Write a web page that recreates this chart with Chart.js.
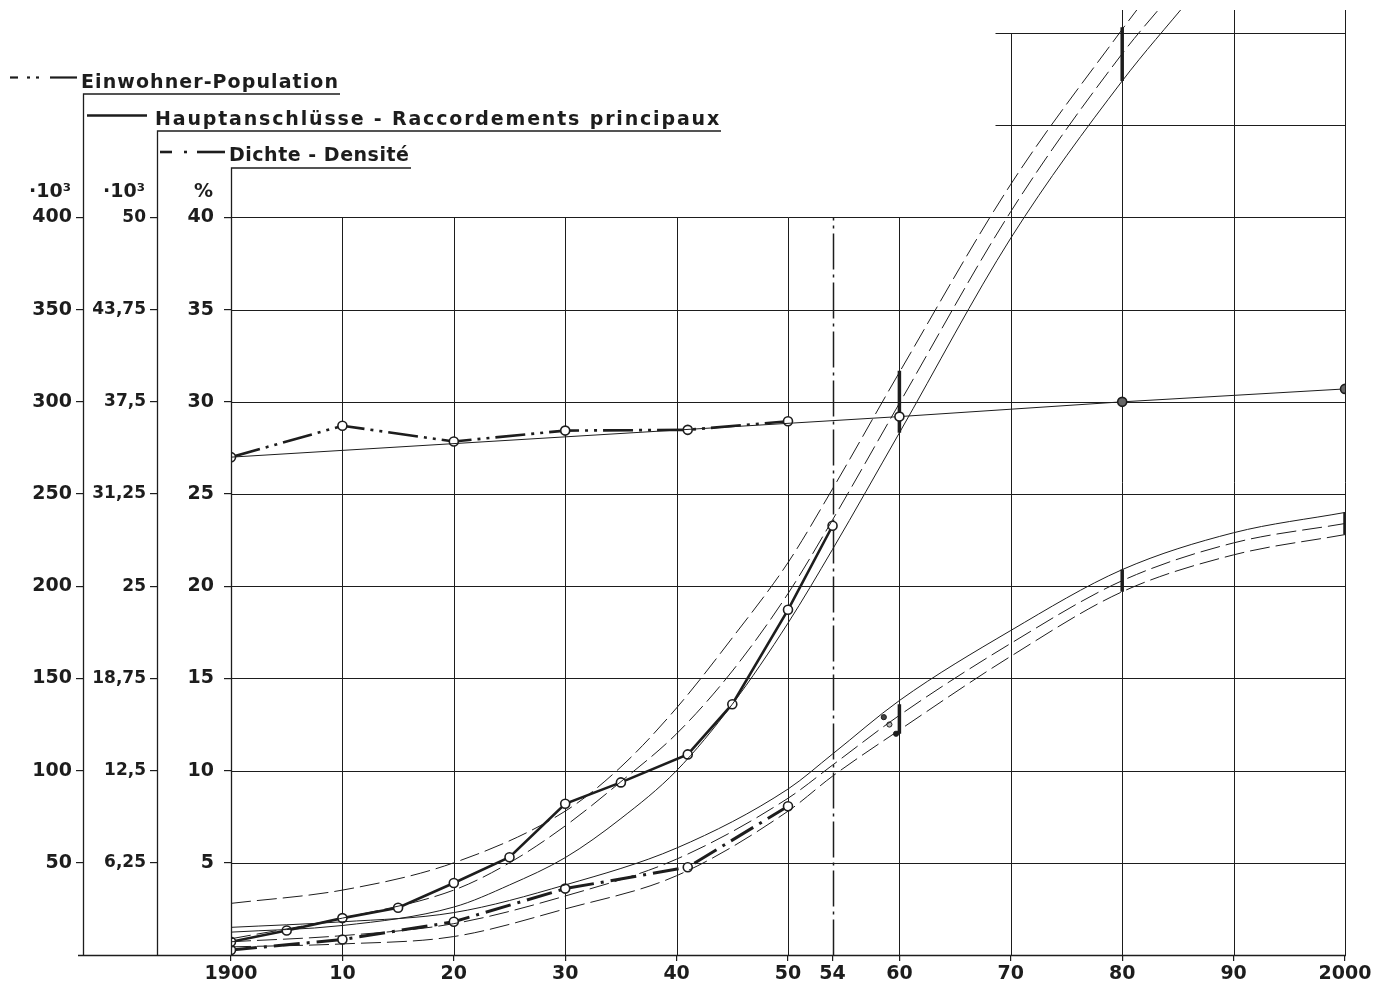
<!DOCTYPE html>
<html lang="de">
<head>
<meta charset="utf-8">
<title>Einwohner, Hauptanschlüsse, Dichte</title>
<script src="https://cdn.jsdelivr.net/npm/chart.js@4.4.1/dist/chart.umd.min.js"></script>
<style>
  html, body { margin: 0; background: #fff; }
  canvas { display: block; }
</style>
</head>
<body>
<canvas id="chart" width="1380" height="985"></canvas>
<script>
// census readings
const censusYears = [1900, 1910, 1920, 1930, 1941, 1950];
const population = [270, 287, 278.5, 284.4, 284.8, 289.5];   // Einwohner, ·10³
const density = [0.27, 0.84, 1.8, 3.6, 4.76, 8.07];           // Dichte, %

const mainsYears = [1900, 1905, 1910, 1915, 1920, 1925, 1930, 1935, 1941, 1945, 1950, 1954];
const mains = [0.9, 1.66, 2.5, 3.2, 4.88, 6.63, 10.25, 11.7, 13.6, 17.0, 23.4, 29.1]; // Hauptanschlüsse, ·10³

// population trend and its marks
const trendYears = [1900, 1960, 1980, 2000];
const populationTrend = [270, 292, 300, 307];

// forecast band for Hauptanschlüsse, ·10³
const mainsHighYears = [1900, 1910, 1920, 1930, 1935, 1940, 1945, 1950, 1954, 1960, 1970, 1980, 1982];
const mainsHigh = [3.5, 4.4, 6.25, 9.75, 12.75, 16.75, 21.5, 26.6, 31.6, 39.5, 52.25, 62.75, 64.75];
const mainsMidYears = [1900, 1910, 1920, 1925, 1930, 1935, 1940, 1945, 1950, 1954, 1960, 1970, 1980, 1984];
const mainsMid = [1.1, 2.5, 4.4, 6.25, 8.75, 11.75, 15.0, 19.25, 24.5, 29.5, 37.4, 50.4, 61.1, 64.75];
const mainsLowYears = [1900, 1910, 1920, 1925, 1930, 1935, 1940, 1945, 1950, 1954, 1960, 1970, 1980, 1986];
const mainsLow = [1.55, 2.0, 3.25, 4.75, 6.6, 9.25, 12.5, 17.0, 22.5, 27.5, 35.4, 48.6, 59.25, 64.75];

// forecast band for Dichte, %
const densityBandYears = [1900, 1910, 1920, 1930, 1940, 1950, 1954, 1960, 1970, 1980, 1990, 2000];
const densityHigh = [1.5, 1.8, 2.3, 3.8, 5.8, 9.0, 10.9, 13.8, 17.6, 20.9, 22.9, 24.0];
const densityMid = [0.72, 1.05, 1.7, 3.2, 5.2, 8.5, 10.3, 13.0, 16.9, 20.3, 22.35, 23.4];
const densityLow = [0.44, 0.6, 1.0, 2.5, 4.3, 7.8, 9.7, 12.2, 16.2, 19.7, 21.7, 22.8];

// forecast ranges (thick bars)
const mainsRangeYears = [1960, 1980];
const mainsRangeHigh = [39.6, 62.9];
const mainsRangeLow = [35.4, 59.25];
const densityRangeYears = [1960, 1980, 2000];
const densityRangeHigh = [13.6, 20.9, 24.0];
const densityRangeLow = [12.0, 19.7, 22.8];
const densityMarkYears = [1958.6, 1959.1, 1959.7];
const densityMarks = [12.9, 12.5, 12.0];

// axes
const xTickYears = [1900, 1910, 1920, 1930, 1940, 1950, 1954, 1960, 1970, 1980, 1990, 2000];
const xTickLabels = ['1900', '10', '20', '30', '40', '50', '54', '60', '70', '80', '90', '2000'];
const pctTicks = [5, 10, 15, 20, 25, 30, 35, 40];
const mainsTicks = [6.25, 12.5, 18.75, 25, 31.25, 37.5, 43.75, 50];
const popTicks = [50, 100, 150, 200, 250, 300, 350, 400];

const ink = '#1d1d1d';
const family = "'DejaVu Sans', sans-serif";
const tickFont = { family, size: 19, weight: 'bold' };
const pctTop = 51.25;

const pts = (xs, ys) => xs.map((x, i) => ({ x, y: ys[i] }));
const bars = (xs, hi, lo) => xs.flatMap((x, i) => [{ x, y: hi[i] }, { x, y: lo[i] }, { x, y: null }]);

const forecast = (data, yAxisID, dash) => ({
  data, yAxisID, borderColor: ink, borderWidth: 1, borderDash: dash,
  pointRadius: 0, cubicInterpolationMode: 'monotone', fill: false
});
const range = (data, yAxisID) => ({
  data, yAxisID, borderColor: ink, borderWidth: 3.5, pointRadius: 0, spanGaps: false, fill: false
});
const measured = (data, yAxisID, dash, width) => ({
  data, yAxisID, borderColor: ink, borderWidth: width, borderDash: dash,
  pointRadius: 4.5, pointBorderWidth: 1.6, pointBorderColor: ink, pointBackgroundColor: '#fff',
  tension: 0, fill: false
});

const fixedTicks = (values) => (scale) => { scale.ticks = values.map(value => ({ value })); };
const leftAxis = (values, max, weight, pad, fmt, font) => ({
  type: 'linear', position: 'left', weight, min: 0, max,
  afterBuildTicks: fixedTicks(values),
  afterFit: (s) => { s.width = 74; s.paddingTop = 0; s.paddingBottom = 0; },
  ticks: { font, color: ink, padding: pad, callback: fmt },
  grid: { drawOnChartArea: false, tickLength: 7, color: ink, lineWidth: 1.2 },
  border: { display: false }
});

const legendRows = [
  { label: 'Einwohner-Population', axis: 'yPop', textX: 81, base: 87.5, lineY: 77.5, under: 94,
    sample: [[10, 18], [27, 30], [36, 39], [50, 77]], width: 257 },
  { label: 'Hauptanschlüsse - Raccordements principaux', axis: 'yMains', textX: 155, base: 125, lineY: 115.5, under: 131,
    sample: [[87, 147]], width: 564 },
  { label: 'Dichte - Densité', axis: 'yPct', textX: 229, base: 161, lineY: 152, under: 168,
    sample: [[160, 172], [184, 187], [197, 225]], width: 180 }
];
const unitLabels = [{ axis: 'yPop', text: '·10³' }, { axis: 'yMains', text: '·10³' }, { axis: 'yPct', text: '%' }];

const paperPlugin = {
  id: 'paper',
  beforeDatasetsDraw(chart) {
    const { ctx, chartArea } = chart;
    const x = chart.scales.x, y = chart.scales.yPct;
    const X = v => Math.round(x.getPixelForValue(v)) + 0.5;
    const Y = v => Math.round(y.getPixelForValue(v)) + 0.5;
    const line = (x1, y1, x2, y2) => { ctx.beginPath(); ctx.moveTo(x1, y1); ctx.lineTo(x2, y2); ctx.stroke(); };
    ctx.save();
    ctx.strokeStyle = ink;
    ctx.lineWidth = 1;
    pctTicks.forEach(v => line(X(1900), Y(v), X(2000), Y(v)));
    [45, 50].forEach(v => line(X(1968.6), Y(v), X(2000), Y(v)));
    [1910, 1920, 1930, 1940, 1950, 1960, 1970, 1980, 1990, 2000].forEach(yr => {
      const top = yr >= 1980 ? chartArea.top : yr === 1970 ? Y(50) : Y(40);
      line(X(yr), Y(0), X(yr), top);
    });
    ctx.lineWidth = 1.5;
    ctx.setLineDash([36, 5, 3, 5]);
    line(X(1954), Y(0), X(1954), Y(40));
    ctx.restore();
  },
  afterDraw(chart) {
    const { ctx } = chart;
    const yZero = Math.round(chart.scales.yPct.getPixelForValue(0)) + 0.5;
    ctx.save();
    ctx.strokeStyle = ink;
    ctx.fillStyle = ink;
    // baseline
    ctx.lineWidth = 1.5;
    ctx.beginPath();
    ctx.moveTo(78, yZero);
    ctx.lineTo(Math.round(chart.scales.x.getPixelForValue(2000)) + 1, yZero);
    ctx.stroke();
    ctx.font = `bold 19px ${family}`;
    legendRows.forEach(row => {
      const ax = Math.round(chart.scales[row.axis].right) + 0.5;
      // sample
      ctx.lineWidth = row.axis === 'yPop' ? 2.2 : 2.6;
      row.sample.forEach(([a, b]) => {
        ctx.beginPath(); ctx.moveTo(a, row.lineY); ctx.lineTo(b, row.lineY); ctx.stroke();
      });
      // label, spread to the drawn width
      ctx.letterSpacing = '0px';
      const w = ctx.measureText(row.label).width;
      ctx.letterSpacing = ((row.width - w) / (row.label.length - 1)).toFixed(2) + 'px';
      ctx.textAlign = 'left';
      ctx.textBaseline = 'alphabetic';
      ctx.fillText(row.label, row.textX, row.base);
      ctx.letterSpacing = '0px';
      // underline and axis line
      ctx.lineWidth = 1.3;
      ctx.beginPath();
      ctx.moveTo(row.textX + row.width + 2, row.under);
      ctx.lineTo(ax, row.under);
      ctx.lineTo(ax, yZero);
      ctx.stroke();
    });
    unitLabels.forEach(u => {
      const s = chart.scales[u.axis];
      ctx.textAlign = 'right';
      ctx.fillText(u.text, s.right - (u.axis === 'yPct' ? 18 : 12), 197);
    });
    ctx.restore();
  }
};

new Chart(document.getElementById('chart'), {
  type: 'line',
  data: {
    datasets: [
      forecast(pts(mainsHighYears, mainsHigh), 'yMains', [20, 6]),
      forecast(pts(mainsMidYears, mainsMid), 'yMains', [20, 6]),
      forecast(pts(mainsLowYears, mainsLow), 'yMains', []),
      forecast(pts(densityBandYears, densityHigh), 'yPct', []),
      forecast(pts(densityBandYears, densityMid), 'yPct', [20, 6]),
      forecast(pts(densityBandYears, densityLow), 'yPct', [20, 6]),
      {
        data: pts(trendYears, populationTrend), yAxisID: 'yPop', borderColor: ink, borderWidth: 1,
        pointRadius: [0, 4.5, 4.5, 4.5], pointBorderWidth: 1.6, pointBorderColor: ink,
        pointBackgroundColor: ['#fff', '#fff', '#666', '#666'], fill: false
      },
      range(bars(mainsRangeYears, mainsRangeHigh, mainsRangeLow), 'yMains'),
      range(bars(densityRangeYears, densityRangeHigh, densityRangeLow), 'yPct'),
      {
        data: pts(densityMarkYears, densityMarks), yAxisID: 'yPct', showLine: false,
        pointRadius: 2.6, pointBorderWidth: 1, pointBorderColor: ink,
        pointBackgroundColor: ['#444', '#bbb', ink]
      },
      measured(pts(censusYears, population), 'yPop', [30, 6, 3, 6, 3, 6], 2.6),
      measured(pts(mainsYears, mains), 'yMains', [], 2.6),
      measured(pts(censusYears, density), 'yPct', [26, 7, 3, 7], 3)
    ]
  },
  options: {
    responsive: false,
    animation: false,
    devicePixelRatio: 1,
    layout: { padding: { left: 9, right: 35, top: 10, bottom: 0 } },
    plugins: { legend: { display: false }, tooltip: { enabled: false } },
    scales: {
      x: {
        type: 'linear', min: 1900, max: 2000,
        afterBuildTicks: fixedTicks(xTickYears),
        afterFit: (s) => { s.height = 30; s.paddingLeft = 0; s.paddingRight = 0; },
        ticks: {
          font: tickFont, color: ink, padding: 2, autoSkip: false, maxRotation: 0, minRotation: 0,
          callback: (v) => xTickLabels[xTickYears.indexOf(v)]
        },
        grid: { drawOnChartArea: false, tickLength: 6, color: ink, lineWidth: 1.2 },
        border: { display: false }
      },
      yPct: leftAxis(pctTicks, pctTop, 0, 10, v => String(v), tickFont),
      yMains: leftAxis(mainsTicks, pctTop * 1.25, 1, 4, v => String(v).replace('.', ','),
        { family, size: 17, weight: 'bold' }),
      yPop: leftAxis(popTicks, pctTop * 10, 2, 4, v => String(v), tickFont)
    }
  },
  plugins: [paperPlugin]
});
</script>
</body>
</html>
